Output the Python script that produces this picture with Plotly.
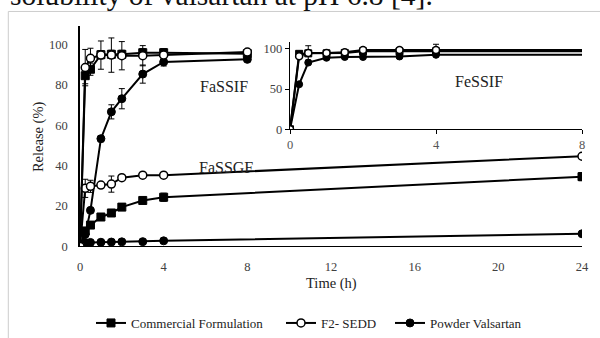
import plotly.graph_objects as go

W, H = 600, 338

# ---------------- data ----------------
T_FASSIF = [0, 0.25, 0.5, 1, 1.5, 2, 3, 4, 8]
T_FASSGF = [0, 0.25, 0.5, 1, 1.5, 2, 3, 4, 24]
T_FESSIF = [0, 0.25, 0.5, 1, 1.5, 2, 3, 4, 24]

COM_FASSIF = [0, 84.6, 87.8, 95.0, 95.2, 95.2, 96.0, 96.0, 95.5]
F2_FASSIF = [0, 88.6, 93.2, 94.8, 94.8, 94.5, 94.5, 94.8, 96.3]
POW_FASSIF = [0, 6.0, 17.9, 53.4, 66.7, 73.2, 85.4, 91.4, 92.7]
COM_FASSIF_ERR = [0, 4, 3, 2, 2, 2, 2, 2, 1]
F2_FASSIF_ERR = [0, 9, 5, 7, 8.5, 7, 5, 3, 1]
POW_FASSIF_ERR = [0, 1, 1, 1.5, 3.5, 5, 4.5, 2, 1]

COM_FASSGF = [0, 7.7, 10.6, 14.6, 16.6, 19.5, 22.8, 24.4, 34.6]
F2_FASSGF = [0, 28.8, 29.8, 30.4, 30.9, 34.1, 35.3, 35.3, 44.7]
POW_FASSGF = [0, 2.0, 2.0, 2.1, 2.2, 2.3, 2.4, 2.8, 6.3]
COM_FASSGF_ERR = [0, 1, 1, 1, 1, 1, 1, 2, 2]
F2_FASSGF_ERR = [0, 4.5, 3, 1, 4, 1, 1, 1, 1]
POW_FASSGF_ERR = [0, 0.5, 0.5, 0.5, 0.5, 0.5, 0.5, 0.5, 0.5]

COM_FESSIF = [0, 93.9, 94.5, 94.5, 95.0, 97.0, 97.0, 97.0, 97.0]
F2_FESSIF = [0, 91.0, 95.0, 95.0, 96.0, 98.8, 98.8, 98.8, 98.8]
POW_FESSIF = [0, 56.0, 83.0, 89.0, 90.0, 90.0, 90.6, 92.7, 92.7]
COM_FESSIF_ERR = [0, 1, 1, 1, 1, 1, 1, 1, 1]
F2_FESSIF_ERR = [0, 1, 9, 1, 1, 1, 1, 7, 1]
POW_FESSIF_ERR = [0, 1, 1, 1, 1, 1, 1, 1, 1]

SERIES = ["Commercial Formulation", "F2- SEDD", "Powder Valsartan"]
MAIN_XTICKS = [0, 4, 8, 12, 16, 20, 24]
MAIN_YTICKS = [0, 20, 40, 60, 80, 100]
INSET_XTICKS = [0, 4, 8]
INSET_YTICKS = [0, 50, 100]

# ---------------- helpers ----------------
def px_x(p):
    return p / W

def px_y(p):
    return 1 - p / H

FONT = "Liberation Serif, Times New Roman, serif"

STYLE = {
    "Commercial Formulation": dict(symbol="square", color="black", size=8, lw=1),
    "F2- SEDD": dict(symbol="circle", color="white", size=8, lw=1.5),
    "Powder Valsartan": dict(symbol="circle", color="black", size=8, lw=1),
}
LEGEND_OF = {"Commercial Formulation": "legend", "F2- SEDD": "legend2",
             "Powder Valsartan": "legend3"}
LEGEND_X = {"legend": 91, "legend2": 281, "legend3": 390}

fig = go.Figure()

def add(name, t, v, err, xa, ya, show, msize=8):
    st = STYLE[name]
    fig.add_trace(go.Scatter(
        x=t, y=v, mode="lines+markers", name=name, legendgroup=name,
        showlegend=show, legend=LEGEND_OF[name],
        xaxis=xa, yaxis=ya,
        line=dict(color="black", width=2),
        marker=dict(symbol=st["symbol"], color=st["color"], size=msize,
                    line=dict(color="black", width=st["lw"])),
        error_y=dict(type="data", array=err, visible=True, color="black",
                     thickness=1, width=3),
        hoverinfo="skip",
    ))

# draw order: powder, commercial, F2 on top
groups = [
    ("Powder Valsartan", POW_FASSGF, POW_FASSGF_ERR, POW_FASSIF, POW_FASSIF_ERR, POW_FESSIF, POW_FESSIF_ERR),
    ("Commercial Formulation", COM_FASSGF, COM_FASSGF_ERR, COM_FASSIF, COM_FASSIF_ERR, COM_FESSIF, COM_FESSIF_ERR),
    ("F2- SEDD", F2_FASSGF, F2_FASSGF_ERR, F2_FASSIF, F2_FASSIF_ERR, F2_FESSIF, F2_FESSIF_ERR),
]
for name, gf, gfe, sf, sfe, fe, fee in groups:
    add(name, T_FASSGF, gf, gfe, "x", "y", True)
    add(name, T_FASSIF, sf, sfe, "x", "y", False)
    add(name, T_FESSIF, fe, fee, "x2", "y2", False, msize=7)

def legend_cfg(key):
    return dict(orientation="h", x=px_x(LEGEND_X[key]), xanchor="left",
                y=px_y(330), yanchor="middle",
                font=dict(family=FONT, size=13, color="#222"),
                bgcolor="rgba(0,0,0,0)")

TICKC = "#404040"
fig.update_layout(
    width=W, height=H, template="none",
    margin=dict(l=0, r=0, t=0, b=0),
    paper_bgcolor="white", plot_bgcolor="rgba(0,0,0,0)",
    font=dict(family=FONT, size=13, color="black"),
    showlegend=True,
    legend=legend_cfg("legend"),
    legend2=legend_cfg("legend2"),
    legend3=legend_cfg("legend3"),
    xaxis=dict(domain=[px_x(80), px_x(582)], range=[0, 24],
               tickvals=MAIN_XTICKS, ticktext=[str(v) for v in MAIN_XTICKS],
               showgrid=False, zeroline=False, showline=True,
               linecolor="black", linewidth=1.3, ticks="",
               tickfont=dict(family=FONT, size=12.5, color=TICKC),
               ticklabelstandoff=8, anchor="y"),
    yaxis=dict(domain=[px_y(251.7), px_y(27)], range=[0, 109],
               tickvals=MAIN_YTICKS, ticktext=[str(v) for v in MAIN_YTICKS],
               showgrid=False, zeroline=False, showline=True,
               linecolor="black", linewidth=1.5, ticks="",
               tickfont=dict(family=FONT, size=12.5, color=TICKC),
               ticklabelstandoff=8, anchor="x"),
    xaxis2=dict(domain=[px_x(290), px_x(582)], range=[0, 8],
                tickvals=INSET_XTICKS, ticktext=[str(v) for v in INSET_XTICKS],
                showgrid=False, zeroline=False, showline=True,
                linecolor="black", linewidth=1.3, ticks="outside", ticklen=4,
                tickcolor="black", tickwidth=1,
                tickfont=dict(family=FONT, size=12.5, color="#555"),
                anchor="y2"),
    yaxis2=dict(domain=[px_y(132), px_y(43)], range=[0, 108.5],
                tickvals=INSET_YTICKS, ticktext=[str(v) for v in INSET_YTICKS],
                showgrid=False, zeroline=False, showline=True,
                linecolor="black", linewidth=1.3, ticks="outside", ticklen=4,
                tickcolor="black", tickwidth=1,
                tickfont=dict(family=FONT, size=12.5, color=TICKC),
                anchor="x2"),
)

# frame around the chart
fig.add_shape(type="rect", xref="paper", yref="paper",
              x0=px_x(8.3), x1=1.05, y0=-0.05, y1=px_y(11.7),
              line=dict(color="#cccccc", width=1), fillcolor="rgba(0,0,0,0)",
              layer="below")

ann = [
    dict(text="solubility of valsartan at pH 6.8 [4].", x=px_x(8), y=px_y(13),
         xanchor="left", yanchor="bottom", font=dict(size=29.5, color="#111")),
    dict(text="Release (%)", x=px_x(38), y=px_y(140), textangle=-90,
         xanchor="center", yanchor="middle", font=dict(size=14.5, color="#222")),
    dict(text="Time (h)", x=px_x(331), y=px_y(289),
         xanchor="center", yanchor="middle", font=dict(size=14.5, color="#222")),
    dict(text="FaSSIF", x=px_x(224), y=px_y(88),
         xanchor="center", yanchor="middle", font=dict(size=16, color="#222")),
    dict(text="FeSSIF", x=px_x(478.5), y=px_y(83.5),
         xanchor="center", yanchor="middle", font=dict(size=16, color="#222")),
    dict(text="FaSSGF", x=px_x(226), y=px_y(171),
         xanchor="center", yanchor="middle", font=dict(size=16, color="#222")),
]
for a in ann:
    a.update(xref="paper", yref="paper", showarrow=False)
    a["font"]["family"] = FONT
    fig.add_annotation(**a)

fig.write_html("out.html")
